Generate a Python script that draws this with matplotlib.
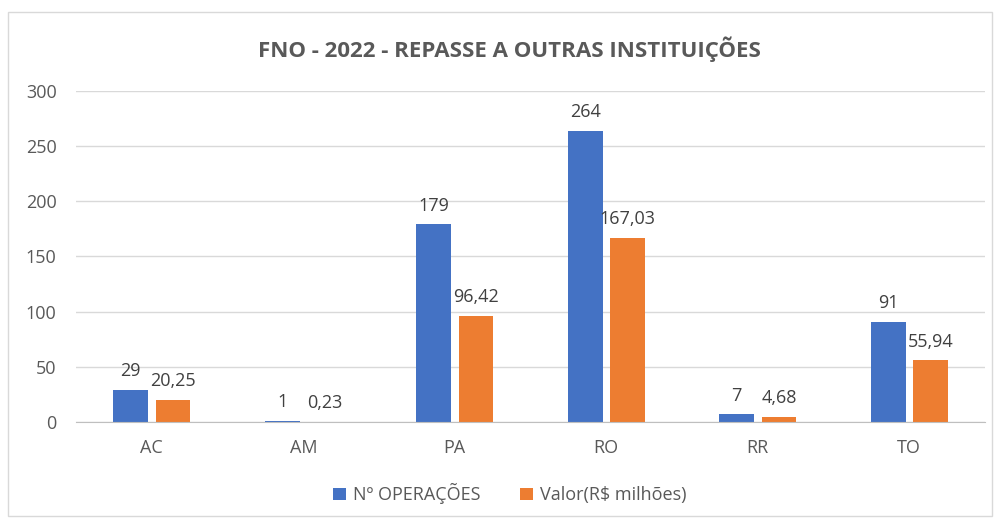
import matplotlib
matplotlib.use("Agg")
import matplotlib.pyplot as plt
from matplotlib.patches import Rectangle
import numpy as np

categories = ["AC", "AM", "PA", "RO", "RR", "TO"]
operacoes = [29, 1, 179, 264, 7, 91]
valor = [20.25, 0.23, 96.42, 167.03, 4.68, 55.94]
operacoes_labels = ["29", "1", "179", "264", "7", "91"]
valor_labels = ["20,25", "0,23", "96,42", "167,03", "4,68", "55,94"]
yticks = [0, 50, 100, 150, 200, 250, 300]

plt.rcParams['font.family'] = ['Liberation Sans Narrow', 'Open Sans', 'DejaVu Sans']
txt = '#595959'
blue = '#4472C4'
orange = '#ED7D31'

fig = plt.figure(figsize=(9.94, 5.22), dpi=100)
ax = fig.add_axes([0.0765, 0.1916, 0.9145, 0.6341])

x = np.arange(len(categories))
w = 0.23
gap = 0.05
b1 = ax.bar(x - (w + gap) / 2, operacoes, w, color=blue, label='Nº OPERAÇÕES', zorder=3)
b2 = ax.bar(x + (w + gap) / 2, valor, w, color=orange, label='Valor(R$ milhões)', zorder=3)

for rect, lab in zip(b1, operacoes_labels):
    ax.annotate(lab, (rect.get_x() + rect.get_width() / 2, rect.get_height()),
                xytext=(0, 7), textcoords='offset points', ha='center', va='bottom',
                fontsize=13, color='#404040')
for rect, lab in zip(b2, valor_labels):
    ax.annotate(lab, (rect.get_x() + rect.get_width() / 2, rect.get_height()),
                xytext=(0, 7), textcoords='offset points', ha='center', va='bottom',
                fontsize=13, color='#404040')

ax.set_xlim(-0.5, len(categories) - 0.5)
ax.set_ylim(0, 300)
ax.set_yticks(yticks)
ax.set_xticks(x)
ax.set_xticklabels(categories)
ax.tick_params(axis='both', length=0, labelsize=13, colors=txt)
ax.tick_params(axis='x', pad=12)
ax.tick_params(axis='y', pad=14)
ax.yaxis.grid(True, color='#d9d9d9', linewidth=1, zorder=0)
for s in ['top', 'right', 'left']:
    ax.spines[s].set_visible(False)
ax.spines['bottom'].set_color('#bfbfbf')
ax.spines['bottom'].set_zorder(4)

fig.text(0.513, 0.905, 'FNO - 2022 - REPASSE A OUTRAS INSTITUIÇÕES', ha='center', va='center',
         fontsize=16, fontweight='bold', color=txt)

leg = fig.legend(handles=[b1, b2], loc='center', bbox_to_anchor=(0.513, 0.054), ncol=2,
                 frameon=False, fontsize=13, handlelength=0.7, handleheight=0.7,
                 handletextpad=0.4, columnspacing=2.2)
for t in leg.get_texts():
    t.set_color(txt)

fig.patches.append(Rectangle((0.008, 0.012), 0.99, 0.965, transform=fig.transFigure,
                             fill=False, edgecolor='#d9d9d9', linewidth=1))

fig.savefig('out.png', dpi=100)
